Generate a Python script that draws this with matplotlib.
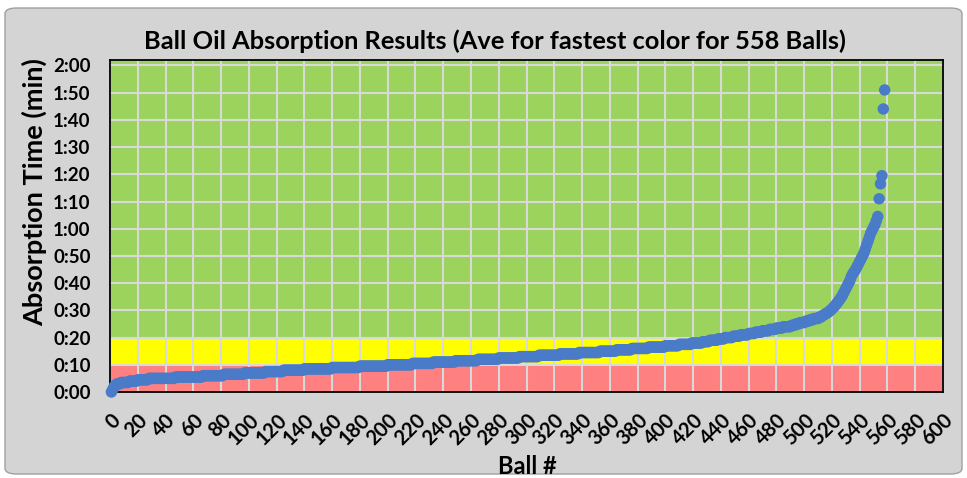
import numpy as np
import matplotlib.pyplot as plt
from matplotlib.patches import FancyBboxPatch
from matplotlib.ticker import FuncFormatter, MultipleLocator

# absorption time (seconds) levels and how many balls sit at each level (sorted run)
bulk_times = [0, 1, 2, 2.5, 3, 3.5, 4, 4.5, 5, 5.5, 6, 6.5, 7, 7.5, 8, 8.5, 9, 9.5,
              10, 10.5, 11, 11.5, 12, 12.5, 13, 13.5, 14, 14.5, 15, 15.5, 16, 16.5,
              17, 17.5, 18, 18.5, 19, 19.5, 20, 20.5, 21, 21.5, 22, 22.5, 23, 23.5,
              24, 24.5, 25, 25.5, 26, 26.5, 27, 27.5, 28]
bulk_counts = [1, 1, 1, 1, 3, 6, 6, 8, 19, 20, 15, 15, 15, 13, 15, 20, 20, 20,
               18, 15, 16, 16, 15, 15, 14, 15, 14, 15, 12, 11, 12, 12,
               10, 9, 8, 5, 6, 5, 6, 5, 6, 5, 5, 5, 5, 5,
               6, 3, 3, 4, 3, 3, 4, 2, 1]
# slowest balls (#514 - #558), seconds
tail_times = [28.3, 28.6, 28.9, 29.2, 29.6, 30.0, 30.5, 31.0, 31.6, 32.2, 32.9,
              33.6, 34.3, 35.0, 36.0, 37.0, 38.0, 39.0, 40.0, 41.0, 42.5, 43.5,
              44.2, 45.0, 46.0, 47.0, 48.0, 49.0, 50.0, 51.0, 52.5, 54.0, 55.5,
              57.0, 58.5, 59.5, 60.5, 61.5, 63.0, 64.5, 71.0, 76.5, 79.5, 104.0, 111.0]

# zones (seconds)
red_zone = (0, 10)
yellow_zone = (10, 20)
green_zone = (20, 122)

times = np.concatenate([np.repeat(bulk_times, bulk_counts), tail_times])
balls = np.arange(1, len(times) + 1)

fnt = ['Lato', 'DejaVu Sans']
plt.rcParams['font.family'] = fnt

fig = plt.figure(figsize=(9.67, 4.78), dpi=100)
fig.patch.set_facecolor('white')
bg = FancyBboxPatch((5 / 967, 4 / 478), 957 / 967, 466 / 478,
                    boxstyle='round,pad=0,rounding_size=0.012',
                    transform=fig.transFigure, facecolor='#d4d4d4',
                    edgecolor='#a0a0a0', linewidth=1.0, zorder=-5)
fig.patches.append(bg)

ax = fig.add_axes([110 / 967, 1 - 392 / 478, 833 / 967, 332 / 478])
ax.axhspan(*red_zone, color='#ff8080', zorder=0, lw=0)
ax.axhspan(*yellow_zone, color='#ffff00', zorder=0, lw=0)
ax.axhspan(*green_zone, color='#9bd35d', zorder=0, lw=0)

ax.scatter(balls, times, s=68, color='#4a7bc8', edgecolors='none', zorder=3, clip_on=False)

ax.set_xlim(0, 600)
ax.set_ylim(0, 122)
ax.xaxis.set_major_locator(MultipleLocator(20))
ax.yaxis.set_major_locator(MultipleLocator(10))
ax.yaxis.set_major_formatter(FuncFormatter(lambda v, p: f'{int(v) // 60}:{int(v) % 60:02d}'))
ax.set_axisbelow('line')
ax.grid(True, color='#d9d9d9', lw=1.5)
ax.tick_params(axis='y', length=0, labelsize=13.5, pad=14)
ax.tick_params(axis='x', length=0, labelsize=14.5, pad=13)
for lbl in ax.get_xticklabels():
    lbl.set_rotation(45)
    lbl.set_ha('right')
    lbl.set_va('top')
    lbl.set_rotation_mode('anchor')
    lbl.set_fontweight('bold')
for lbl in ax.get_yticklabels():
    lbl.set_fontweight('bold')
for sp in ax.spines.values():
    sp.set_color('black')
    sp.set_linewidth(1.3)

fig.text(495 / 967, 1 - 41 / 478, 'Ball Oil Absorption Results (Ave for fastest color for 558 Balls)',
         ha='center', va='center', fontsize=18.3, fontweight='bold')
fig.text(34 / 967, 1 - 192 / 478, 'Absorption Time (min)', ha='center', va='center',
         rotation=90, fontsize=19.5, fontweight='bold')
fig.text(527 / 967, 1 - 466 / 478, 'Ball #', ha='center', va='center',
         fontsize=17, fontweight='bold')

fig.savefig('out.png', dpi=100, facecolor='white')
